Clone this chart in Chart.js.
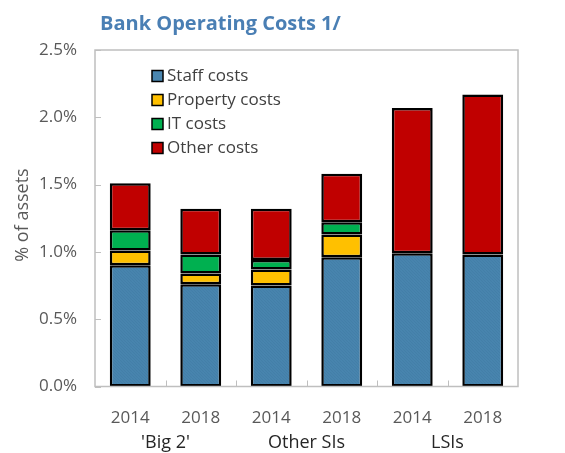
<!DOCTYPE html>
<html>
<head>
<meta charset="utf-8">
<script src="https://cdn.jsdelivr.net/npm/chart.js@4.4.1/dist/chart.umd.min.js"></script>
<style>
html,body{margin:0;padding:0;background:#fff;}
#wrap{width:565px;height:453px;position:relative;}
</style>
</head>
<body>
<div id="wrap"><canvas id="c" width="565" height="453"></canvas></div>
<script>
const titleText = 'Bank Operating Costs 1/';
const yAxisTitle = '% of assets';
const categories = ['2014', '2018', '2014', '2018', '2014', '2018'];
const groupLabels = ["'Big 2'", 'Other SIs', 'LSIs'];
const seriesNames = ['Staff costs', 'Property costs', 'IT costs', 'Other costs'];
const staffCosts = [0.90, 0.76, 0.75, 0.96, 0.99, 0.98];
const propertyCosts = [0.11, 0.08, 0.12, 0.17, 0, 0];
const itCosts = [0.15, 0.14, 0.07, 0.09, 0, 0];
const otherCosts = [0.35, 0.34, 0.38, 0.36, 1.08, 1.19];
const yTicks = [0, 0.5, 1.0, 1.5, 2.0, 2.5];

const FONT = "'Open Sans', 'Noto Sans', sans-serif";
const GREY = '#595959';
const AXIS = '#bfbfbf';

function makePattern() {
  const p = document.createElement('canvas');
  p.width = 6; p.height = 6;
  const g = p.getContext('2d');
  g.fillStyle = '#4a86b0';
  g.fillRect(0, 0, 6, 6);
  g.strokeStyle = '#447fa8';
  g.lineWidth = 1.2;
  for (let k = -6; k <= 12; k += 3) {
    g.beginPath();
    g.moveTo(k, 0);
    g.lineTo(k + 6, 6);
    g.stroke();
  }
  return document.getElementById('c').getContext('2d').createPattern(p, 'repeat');
}
const staffFill = makePattern();
const colors = [staffFill, '#ffc000', '#00b050', '#c00000'];
const legendColors = ['#4a86b0', '#ffc000', '#00b050', '#c00000'];
const seriesData = [staffCosts, propertyCosts, itCosts, otherCosts];

const decor = {
  id: 'decor',
  afterDraw(chart) {
    const ctx = chart.ctx;
    const a = chart.chartArea;
    const xs = chart.scales.x, ys = chart.scales.y;
    ctx.save();
    // plot border
    ctx.strokeStyle = AXIS;
    ctx.lineWidth = 1.5;
    ctx.strokeRect(a.left, a.top, a.right - a.left, a.bottom - a.top);
    // y ticks (inside)
    ctx.lineWidth = 1;
    yTicks.forEach(v => {
      const y = Math.round(ys.getPixelForValue(v)) + 0.5;
      ctx.beginPath(); ctx.moveTo(a.left, y); ctx.lineTo(a.left + 6, y); ctx.stroke();
    });
    // x ticks at category boundaries (inside)
    for (let i = 1; i < categories.length; i++) {
      const x = Math.round((xs.getPixelForValue(i - 1) + xs.getPixelForValue(i)) / 2) + 0.5;
      ctx.beginPath(); ctx.moveTo(x, a.bottom); ctx.lineTo(x, a.bottom - 6); ctx.stroke();
    }
    // title
    ctx.fillStyle = '#4a7fb4';
    ctx.font = 'bold 20px ' + FONT;
    ctx.textAlign = 'left';
    ctx.textBaseline = 'middle';
    ctx.fillText(titleText, 100, 24);
    // y axis title
    ctx.save();
    ctx.translate(23, 215);
    ctx.rotate(-Math.PI / 2);
    ctx.fillStyle = GREY;
    ctx.font = '18px ' + FONT;
    ctx.textAlign = 'center';
    ctx.fillText(yAxisTitle, 0, 0);
    ctx.restore();
    // group labels
    ctx.fillStyle = '#262626';
    ctx.font = '18px ' + FONT;
    ctx.textAlign = 'center';
    groupLabels.forEach((g, k) => {
      const x = (xs.getPixelForValue(2 * k) + xs.getPixelForValue(2 * k + 1)) / 2;
      ctx.fillText(g, x, 443);
    });
    // legend
    ctx.font = '17px ' + FONT;
    ctx.textAlign = 'left';
    seriesNames.forEach((n, k) => {
      const y = 76 + k * 24;
      ctx.fillStyle = legendColors[k];
      ctx.fillRect(152, y - 5.5, 11, 11);
      ctx.strokeStyle = '#000';
      ctx.lineWidth = 1.5;
      ctx.strokeRect(152, y - 5.5, 11, 11);
      ctx.fillStyle = '#404040';
      ctx.fillText(n, 167, y);
    });
    ctx.restore();
  }
};

new Chart(document.getElementById('c'), {
  type: 'bar',
  data: {
    labels: categories,
    datasets: seriesNames.map((n, k) => ({
      label: n,
      data: seriesData[k],
      backgroundColor: colors[k],
      borderColor: '#000',
      borderWidth: 2.5,
      borderSkipped: false,
      barPercentage: 0.58,
      categoryPercentage: 1.0
    }))
  },
  options: {
    responsive: false,
    animation: false,
    layout: { padding: { top: 50, right: 47, left: 0, bottom: 0 } },
    plugins: { legend: { display: false }, title: { display: false }, tooltip: { enabled: false } },
    scales: {
      x: {
        stacked: true,
        grid: { display: false, drawTicks: false },
        border: { display: false },
        ticks: { color: GREY, font: { size: 17, family: FONT }, padding: 21, maxRotation: 0 },
        afterFit(s) { s.height = 66.5; }
      },
      y: {
        stacked: true,
        min: 0, max: 2.5,
        grid: { display: false, drawTicks: false },
        border: { display: false },
        ticks: {
          stepSize: 0.5,
          color: GREY,
          font: { size: 17, family: FONT },
          padding: 18,
          callback: v => v.toFixed(1) + '%'
        },
        afterFit(s) { s.width = 95; }
      }
    }
  },
  plugins: [decor]
});
</script>
</body>
</html>
